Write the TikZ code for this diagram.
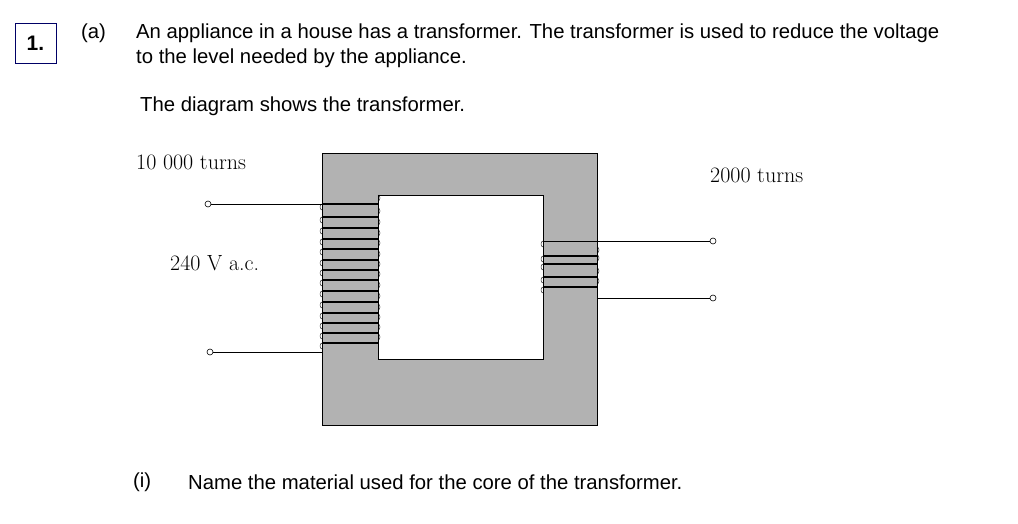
\documentclass[tikz,border=0pt]{standalone}
\usepackage{fontspec}
\newfontfamily\arial{Liberation Sans}
\tikzset{
  qtext/.style={font=\arial\fontsize{20.3}{24}\selectfont,anchor=west,inner sep=0pt,align=left},
  lbl/.style={font=\fontsize{22}{24}\selectfont,anchor=west,inner sep=0pt},
  wire/.style={line width=0.8pt},
  turn/.style={line width=1.3pt},
  term/.style={circle,draw,inner sep=0pt,minimum size=6pt,line width=0.6pt}
}
\begin{document}
\begin{tikzpicture}[x=1pt,y=-1pt]
\useasboundingbox (0,0) rectangle (1018,524);
% question text
\node[draw=blue!40!black,line width=0.9pt,minimum width=41,minimum height=40,font=\arial\bfseries\fontsize{21}{24}\selectfont] (num) at (35.5,43) {1.};
\node[qtext] (a) at (81,33) {(a)};
\node[qtext] (l1) at (136,33) {An appliance in a house has a transformer. The transformer is used to reduce the voltage};
\node[qtext] (l2) at (136,58) {to the level needed by the appliance.};
\node[qtext] (l3) at (140,106) {The diagram shows the transformer.};
\node[qtext] (i) at (133,482) {(i)};
\node[qtext] (l4) at (188,482) {Name the material used for the core of the transformer.};
% core
\fill[gray!60!white,draw=black,line width=0.6pt] (322,153) rectangle (597,425);
\fill[white,draw=black,line width=0.8pt] (378,195) rectangle (543,359);
% labels
\node[lbl] (np) at (136,162) {10 000 turns};
\node[lbl] (ns) at (710,175) {2000 turns};
\node[lbl] (vin) at (170,263) {240 V a.c.};
% terminals
\node[term] (t1) at (208,204) {};
\node[term] (t2) at (210,352) {};
\node[term] (t3) at (713,241) {};
\node[term] (t4) at (713,298) {};
\coordinate (p1) at (378,204);
\coordinate (p2) at (322,352);
\coordinate (s1) at (543,241);
\coordinate (s2) at (597,298);
\draw[wire] (t1) -- (p1);
\draw[wire] (t2) -- (p2);
\draw[wire] (t3) -- (s1);
\draw[wire] (t4) -- (s2);
% primary winding
\foreach \y in {204,217,228,239,249,260,270,280,291,302,313,323,333,343}{
  \draw[turn] (322,\y) -- (378,\y);
  \draw[line width=0.4pt] (378,\y-3) arc (90:-90:2 and 3);
  \draw[line width=0.4pt] (322,\y) arc (-90:-270:2 and 3);
}
% secondary winding
\foreach \y in {256,264,277,287}{
  \draw[turn] (543,\y) -- (597,\y);
  \draw[line width=0.4pt] (597,\y-3) arc (90:-90:2 and 3);
  \draw[line width=0.4pt] (543,\y) arc (-90:-270:2 and 3);
}
\draw[line width=0.4pt] (543,241) arc (-90:-270:2 and 3);
\end{tikzpicture}
\end{document}
